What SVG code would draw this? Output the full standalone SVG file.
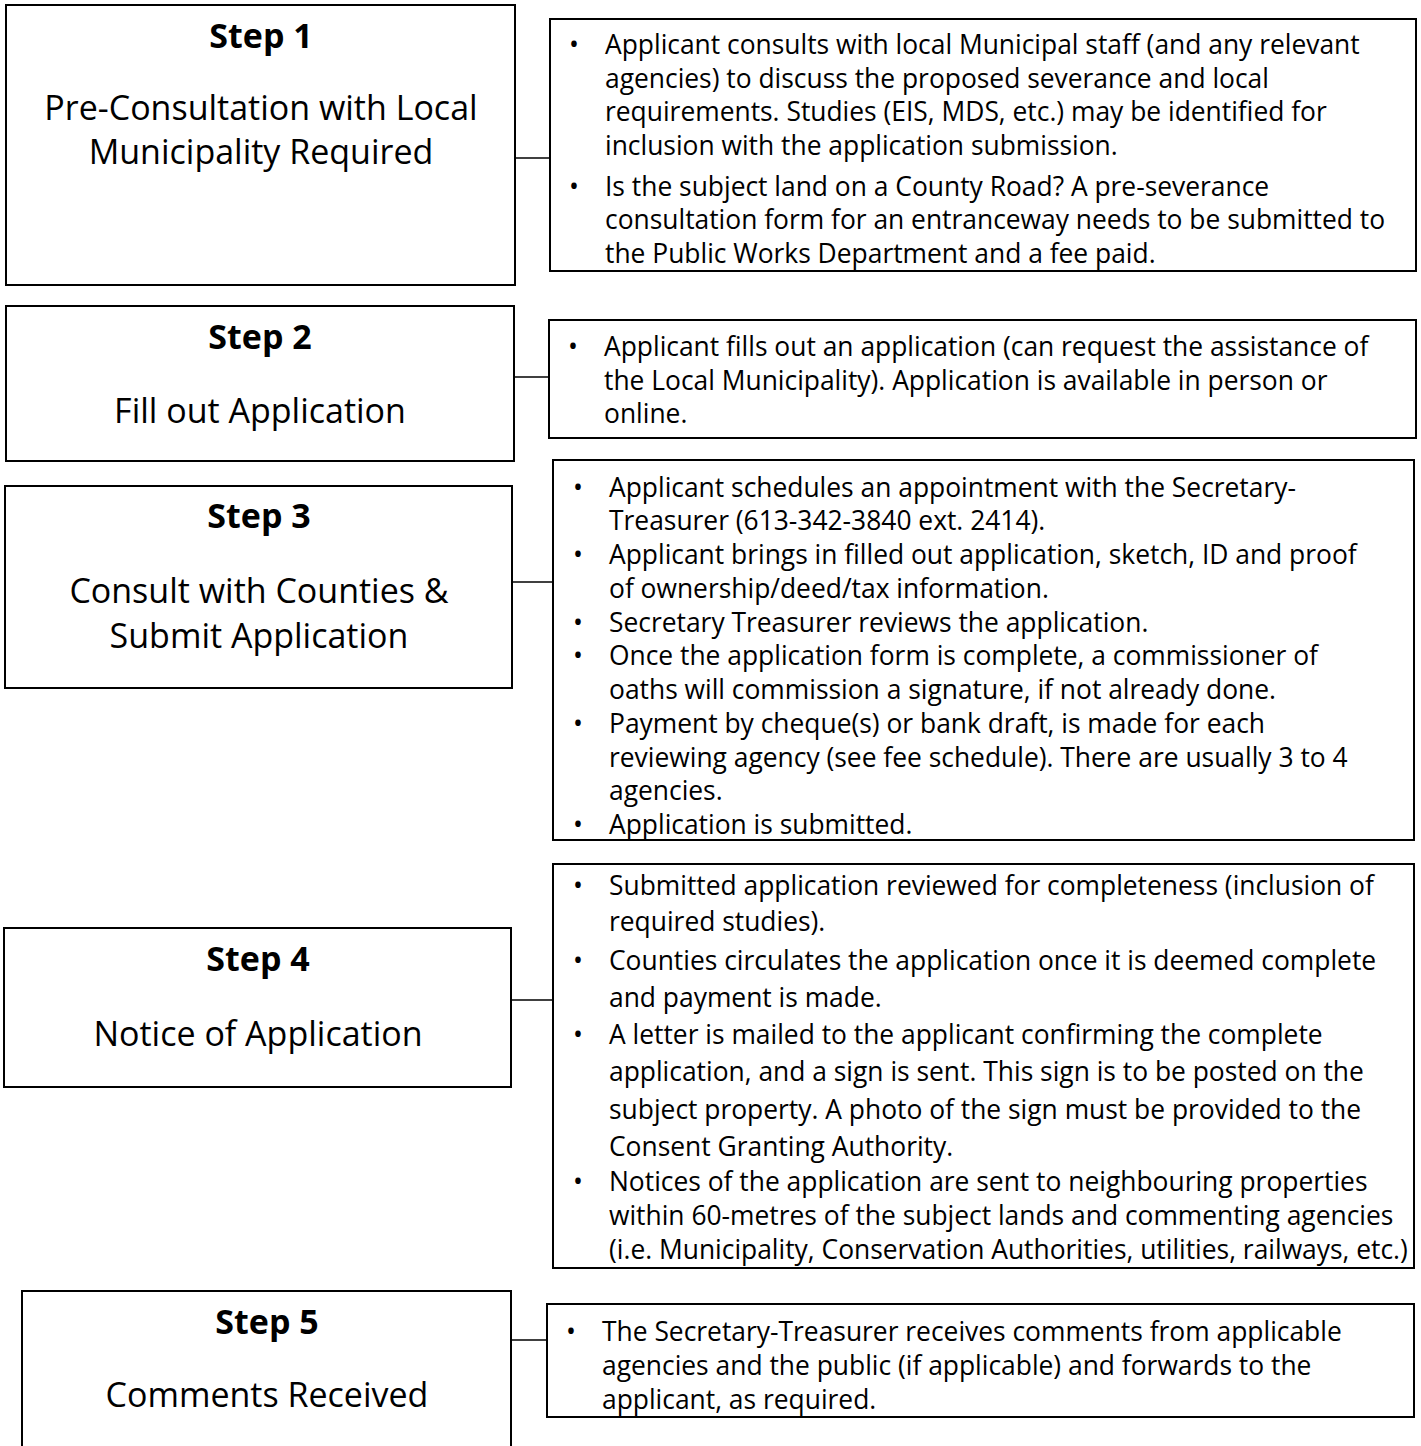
<svg xmlns="http://www.w3.org/2000/svg" width="1421" height="1446" viewBox="0 0 1421 1446">
<style>
.box{fill:#fff;stroke:#000;stroke-width:2}
.conn{stroke:#000;stroke-width:1.5;fill:none}
.st{font-family:"Open Sans","Noto Sans",sans-serif;font-weight:bold;font-size:34px;text-anchor:middle;fill:#000}
.tt{font-family:"Open Sans","Noto Sans",sans-serif;font-size:34px;text-anchor:middle;fill:#000}
.bt{font-family:"Open Sans","Noto Sans",sans-serif;font-size:26.4px;fill:#000}
</style>
<rect width="1421" height="1446" fill="#fff"/>
<g id="connectors">
<line class="conn" x1="515" y1="158" x2="550" y2="158"/>
<line class="conn" x1="514" y1="377" x2="549" y2="377"/>
<line class="conn" x1="512" y1="582" x2="553" y2="582"/>
<line class="conn" x1="511" y1="1000" x2="553" y2="1000"/>
<line class="conn" x1="511" y1="1340" x2="547" y2="1340"/>
</g>
<g id="step1">
<rect class="box" x="6" y="5" width="509" height="280"/>
<text class="st" x="261" y="48">Step 1</text>
<text class="tt" x="261" y="120">Pre-Consultation with Local</text>
<text class="tt" x="261" y="164">Municipality Required</text>
</g>
<g id="detail1">
<rect class="box" x="550" y="19" width="866" height="252"/>
<g class="bt">
<text x="569" y="54">•</text>
<text x="605" y="54">Applicant consults with local Municipal staff (and any relevant</text>
<text x="605" y="88">agencies) to discuss the proposed severance and local</text>
<text x="605" y="121">requirements. Studies (EIS, MDS, etc.) may be identified for</text>
<text x="605" y="155">inclusion with the application submission.</text>
<text x="569" y="196">•</text>
<text x="605" y="196">Is the subject land on a County Road? A pre-severance</text>
<text x="605" y="229">consultation form for an entranceway needs to be submitted to</text>
<text x="605" y="263">the Public Works Department and a fee paid.</text>
</g>
</g>
<g id="step2">
<rect class="box" x="6" y="306" width="508" height="155"/>
<text class="st" x="260" y="349">Step 2</text>
<text class="tt" x="260" y="423">Fill out Application</text>
</g>
<g id="detail2">
<rect class="box" x="549" y="320" width="867" height="118"/>
<g class="bt">
<text x="568" y="356">•</text>
<text x="604" y="356">Applicant fills out an application (can request the assistance of</text>
<text x="604" y="390">the Local Municipality). Application is available in person or</text>
<text x="604" y="423">online.</text>
</g>
</g>
<g id="step3">
<rect class="box" x="5" y="486" width="507" height="202"/>
<text class="st" x="259" y="528">Step 3</text>
<text class="tt" x="259" y="603">Consult with Counties &amp;</text>
<text class="tt" x="259" y="648">Submit Application</text>
</g>
<g id="detail3">
<rect class="box" x="553" y="460" width="861" height="380"/>
<g class="bt">
<text x="573" y="497">•</text>
<text x="609" y="497">Applicant schedules an appointment with the Secretary-</text>
<text x="609" y="530">Treasurer (613-342-3840 ext. 2414).</text>
<text x="573" y="564">•</text>
<text x="609" y="564">Applicant brings in filled out application, sketch, ID and proof</text>
<text x="609" y="598">of ownership/deed/tax information.</text>
<text x="573" y="632">•</text>
<text x="609" y="632">Secretary Treasurer reviews the application.</text>
<text x="573" y="665">•</text>
<text x="609" y="665">Once the application form is complete, a commissioner of</text>
<text x="609" y="699">oaths will commission a signature, if not already done.</text>
<text x="573" y="733">•</text>
<text x="609" y="733">Payment by cheque(s) or bank draft, is made for each</text>
<text x="609" y="767">reviewing agency (see fee schedule). There are usually 3 to 4</text>
<text x="609" y="800">agencies.</text>
<text x="573" y="834">•</text>
<text x="609" y="834">Application is submitted.</text>
</g>
</g>
<g id="step4">
<rect class="box" x="4" y="928" width="507" height="159"/>
<text class="st" x="258" y="971">Step 4</text>
<text class="tt" x="258" y="1046">Notice of Application</text>
</g>
<g id="detail4">
<rect class="box" x="553" y="864" width="861" height="404"/>
<g class="bt">
<text x="573" y="895">•</text>
<text x="609" y="895">Submitted application reviewed for completeness (inclusion of</text>
<text x="609" y="931">required studies).</text>
<text x="573" y="970">•</text>
<text x="609" y="970">Counties circulates the application once it is deemed complete</text>
<text x="609" y="1007">and payment is made.</text>
<text x="573" y="1044">•</text>
<text x="609" y="1044">A letter is mailed to the applicant confirming the complete</text>
<text x="609" y="1081">application, and a sign is sent. This sign is to be posted on the</text>
<text x="609" y="1119">subject property. A photo of the sign must be provided to the</text>
<text x="609" y="1156">Consent Granting Authority.</text>
<text x="573" y="1191">•</text>
<text x="609" y="1191">Notices of the application are sent to neighbouring properties</text>
<text x="609" y="1225">within 60-metres of the subject lands and commenting agencies</text>
<text x="609" y="1259">(i.e. Municipality, Conservation Authorities, utilities, railways, etc.)</text>
</g>
</g>
<g id="step5">
<rect class="box" x="22" y="1291" width="489" height="170"/>
<text class="st" x="267" y="1334">Step 5</text>
<text class="tt" x="267" y="1407">Comments Received</text>
</g>
<g id="detail5">
<rect class="box" x="547" y="1304" width="867" height="113"/>
<g class="bt">
<text x="566" y="1341">•</text>
<text x="602" y="1341">The Secretary-Treasurer receives comments from applicable</text>
<text x="602" y="1375">agencies and the public (if applicable) and forwards to the</text>
<text x="602" y="1409">applicant, as required.</text>
</g>
</g>
</svg>
